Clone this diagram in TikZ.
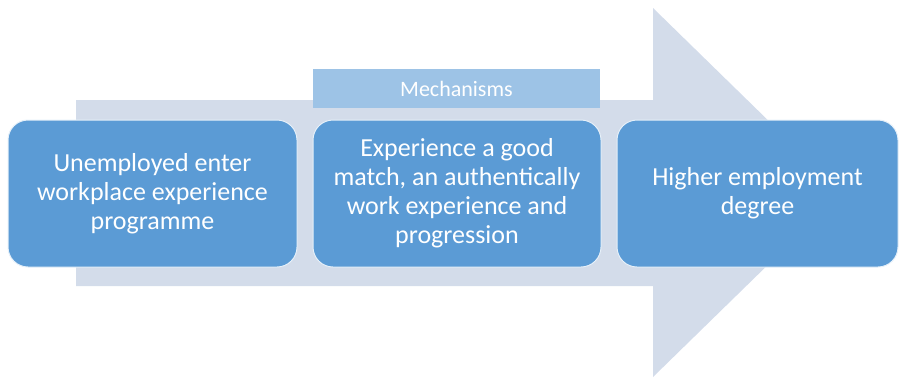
\documentclass[tikz,border=0pt]{standalone}
\usepackage{fontspec}
\setmainfont{Carlito}
\usepackage{tikz}
\definecolor{stepblue}{HTML}{5B9BD5}
\definecolor{arrowgrey}{HTML}{D3DCEA}
\definecolor{mechblue}{HTML}{9DC3E6}
\tikzset{stagebox/.style={
        rectangle, rounded corners=20pt, fill=stepblue, draw=white!85!stepblue,
        line width=1pt, text=white, align=center,
        font=\fontsize{26}{29}\selectfont, minimum height=147pt
    },
    mechbox/.style={
        rectangle, fill=mechblue, text=white, minimum height=39pt,
        font=\fontsize{22}{25}\selectfont
    }
}

\begin{document}
\begin{tikzpicture}[x=1pt,y=-1pt]
           \useasboundingbox (0,0) rectangle (899,378);
           % big background arrow
           \fill[arrowgrey] (76,100) -- (653,100) -- (653,8) -- (842,192.5) -- (653,377) -- (653,286) -- (76,286) -- cycle;
           \node[mechbox,minimum width=287pt] (mech) at (456.5,88.5) {Mechanisms};
           \node[stagebox,minimum width=289pt] (enter) at (152.5,193.5) {Unemployed enter\\workplace experience\\programme};
           \node[stagebox,minimum width=288pt] (match) at (457,193.5) {Experience a good\\match, an authentically\\work experience and\\progression};
           \node[stagebox,minimum width=281pt] (degree) at (757.5,193.5) {Higher employment\\degree};
         \end{tikzpicture}
\end{document}
